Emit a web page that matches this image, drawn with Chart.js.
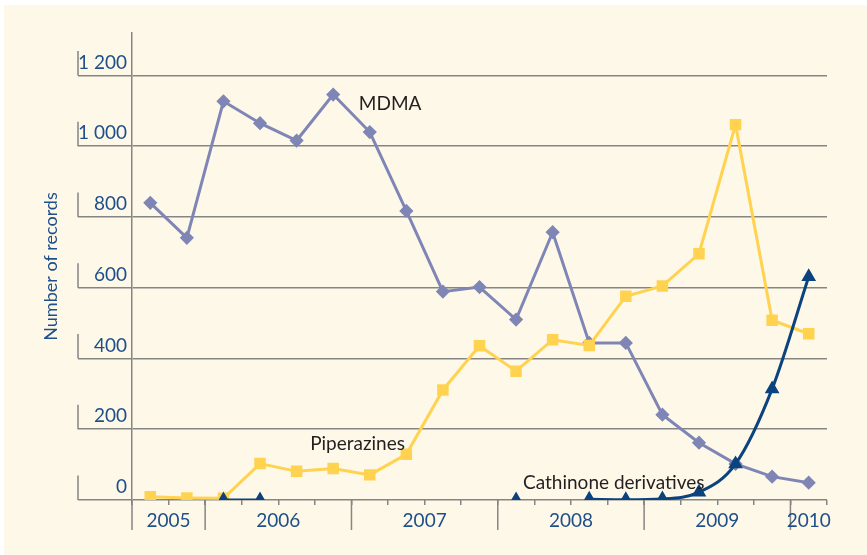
<!DOCTYPE html>
<html>
<head>
<meta charset="utf-8">
<script src="https://cdn.jsdelivr.net/npm/chart.js@4.4.0/dist/chart.umd.min.js"></script>
<style>
  body { margin: 0; background: #fff; }
  #wrap { position: absolute; left: 4px; top: 5px; width: 863px; height: 550px; background: #fef8e8; }
</style>
</head>
<body>
<div id="wrap"><canvas id="chart"></canvas></div>
<script>
// quarterly records, 2005 Q3 - 2010 Q1
var quarters = ['2005 Q3', '2005 Q4',
  '2006 Q1', '2006 Q2', '2006 Q3', '2006 Q4',
  '2007 Q1', '2007 Q2', '2007 Q3', '2007 Q4',
  '2008 Q1', '2008 Q2', '2008 Q3', '2008 Q4',
  '2009 Q1', '2009 Q2', '2009 Q3', '2009 Q4',
  '2010 Q1'];
var mdma = [840, 741, 1127, 1065, 1016, 1146, 1040, 817, 589, 602, 510, 757, 444, 444, 241, 162, 102, 66, 49];
var piperazines = [9, 6, 5, 103, 81, 89, 71, 129, 311, 436, 364, 453, 437, 576, 605, 696, 1061, 508, 470];
var cathinones = [null, null, 0, 0, null, null, null, null, null, null, 0, null, 2, 1, 3, 22, 102, 314, 631];

var yTicks = [0, 200, 400, 600, 800, 1000, 1200];
var yTickLabels = ['0', '200', '400', '600', '800', '1 000', '1 200'];

// series name labels, placed at (quarter index, value)
var notes = [
  { text: 'MDMA', i: 5.7, v: 1120 },
  { text: 'Piperazines', i: 4.37, v: 159 },
  { text: 'Cathinone derivatives', i: 10.19, v: 49 }
];

var gridColor = '#858585';
var blue = '#1f4f8a';
var fontFamily = "Lato, 'DejaVu Sans', sans-serif";

var extras = {
  id: 'extras',
  afterDraw: function(chart) {
    var ctx = chart.ctx;
    var xs = chart.scales.x;
    var ys = chart.scales.y;
    var area = chart.chartArea;
    ctx.save();
    ctx.strokeStyle = gridColor;
    ctx.lineWidth = 1.5;

    // little bars on the left end of each gridline
    var barX = area.left - 54;
    yTicks.forEach(function(v) {
      var py = ys.getPixelForValue(v);
      ctx.beginPath();
      ctx.moveTo(barX, py - 24.5);
      ctx.lineTo(barX, py);
      ctx.stroke();
    });

    // year separators and year labels
    var groups = [];
    quarters.forEach(function(q, i) {
      var yr = q.slice(0, 4);
      var last = groups[groups.length - 1];
      if (!last || last.year !== yr) groups.push({ year: yr, first: i, last: i });
      else last.last = i;
    });
    ctx.fillStyle = blue;
    ctx.font = '19px ' + fontFamily;
    ctx.textAlign = 'center';
    ctx.textBaseline = 'middle';
    groups.forEach(function(g) {
      var x0 = xs.getPixelForValue(g.first - 0.5);
      var x1 = xs.getPixelForValue(g.last + 0.5);
      ctx.beginPath();
      ctx.moveTo(x0, area.bottom);
      ctx.lineTo(x0, area.bottom + 30);
      ctx.stroke();
      ctx.fillText(g.year, (x0 + x1) / 2, area.bottom + 21);
    });

    // series names
    ctx.fillStyle = '#231f20';
    ctx.textAlign = 'left';
    notes.forEach(function(n) {
      ctx.fillText(n.text, xs.getPixelForValue(n.i), ys.getPixelForValue(n.v));
    });
    ctx.restore();
  }
};

new Chart(document.getElementById('chart'), {
  type: 'line',
  data: {
    labels: quarters,
    datasets: [
      {
        label: 'Cathinone derivatives',
        data: cathinones,
        borderColor: '#0b437f',
        backgroundColor: '#0b437f',
        borderWidth: 3,
        pointStyle: 'triangle',
        pointRadius: 5.5,
        cubicInterpolationMode: 'monotone',
        spanGaps: false
      },
      {
        label: 'Piperazines',
        data: piperazines,
        borderColor: '#ffd24f',
        backgroundColor: '#ffd24f',
        borderWidth: 3,
        pointStyle: 'rect',
        pointRadius: 6,
        tension: 0
      },
      {
        label: 'MDMA',
        data: mdma,
        borderColor: '#7f86b5',
        backgroundColor: '#7f86b5',
        borderWidth: 3,
        pointStyle: 'rectRot',
        pointRadius: 5,
        tension: 0
      }
    ]
  },
  options: {
    responsive: true,
    maintainAspectRatio: false,
    animation: false,
    layout: { padding: { left: 36, top: 28, right: 40, bottom: 50 } },
    plugins: {
      legend: { display: false },
      tooltip: { enabled: false }
    },
    scales: {
      x: {
        offset: true,
        grid: { offset: true, drawOnChartArea: false, tickLength: 5, color: gridColor, lineWidth: 1.5 },
        border: { display: false },
        ticks: { display: false }
      },
      y: {
        min: 0,
        max: 1320,
        afterBuildTicks: function(s) {
          s.ticks = yTicks.map(function(v) { return { value: v }; });
        },
        afterFit: function(s) { s.width = 92; },
        grid: { color: gridColor, lineWidth: 1.5, tickLength: 54, tickColor: gridColor, tickWidth: 1.5 },
        border: { display: true, color: gridColor, width: 1.5 },
        ticks: {
          padding: -49,
          labelOffset: -13,
          color: blue,
          font: { family: fontFamily, size: 19 },
          callback: function(v) { return yTickLabels[yTicks.indexOf(v)]; }
        },
        title: {
          display: true,
          text: 'Number of records',
          color: blue,
          font: { family: fontFamily, size: 18 },
          padding: 0
        }
      }
    }
  },
  plugins: [extras]
});
</script>
</body>
</html>
